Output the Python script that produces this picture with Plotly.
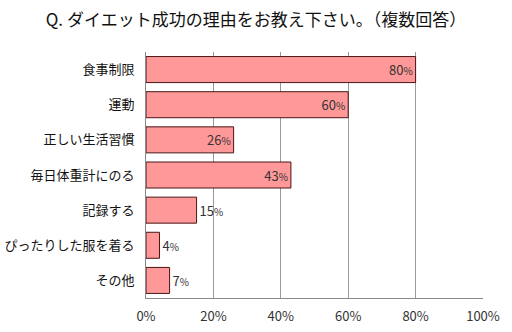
import plotly.graph_objects as go

categories = ["食事制限", "運動", "正しい生活習慣", "毎日体重計にのる", "記録する", "ぴったりした服を着る", "その他"]
values = [80, 60, 26, 43, 15, 4, 7]
x_ticks = [0, 20, 40, 60, 80, 100]
x_tick_labels = ["0%", "20%", "40%", "60%", "80%", "100%"]

font_family = "Noto Sans CJK JP, Noto Sans, sans-serif"

# value labels: larger number, smaller percent sign
labels = [f"{v}<span style='font-size:10px'>%</span>" for v in values]
positions = ["inside" if v >= 25 else "outside" for v in values]

fig = go.Figure(
    go.Bar(
        y=categories,
        x=values,
        orientation="h",
        marker=dict(color="#FF9999", line=dict(color="#4a1515", width=1)),
        text=labels,
        texttemplate="%{text}",
        textposition=positions,
        insidetextanchor="end",
        textfont=dict(family=font_family, size=13, color="#333333"),
        cliponaxis=False,
        width=0.74,
    )
)

fig.update_layout(
    width=512,
    height=332,
    margin=dict(l=146, r=29, t=52, b=34),
    paper_bgcolor="white",
    plot_bgcolor="white",
    showlegend=False,
    title=dict(
        text="Q. ダイエット成功の理由をお教え下さい。（複数回答）",
        x=0.5,
        xanchor="center",
        y=0.94,
        yanchor="middle",
        font=dict(family=font_family, size=17, color="#111111"),
    ),
    uniformtext=dict(mode=False),
)

fig.update_xaxes(
    range=[0, 100],
    tickvals=x_ticks,
    ticktext=x_tick_labels,
    showgrid=True,
    gridcolor="#999999",
    gridwidth=1,
    zeroline=False,
    showline=True,
    linecolor="#888888",
    ticks="",
    ticklabelstandoff=6,
    automargin=False,
    tickfont=dict(family=font_family, size=13, color="#333333"),
    fixedrange=True,
)

fig.update_yaxes(
    autorange="reversed",
    showline=True,
    linecolor="#888888",
    ticks="",
    ticklabelstandoff=8,
    automargin=False,
    tickfont=dict(family=font_family, size=13, color="#111111"),
    fixedrange=True,
)

fig.write_html("out.html")
